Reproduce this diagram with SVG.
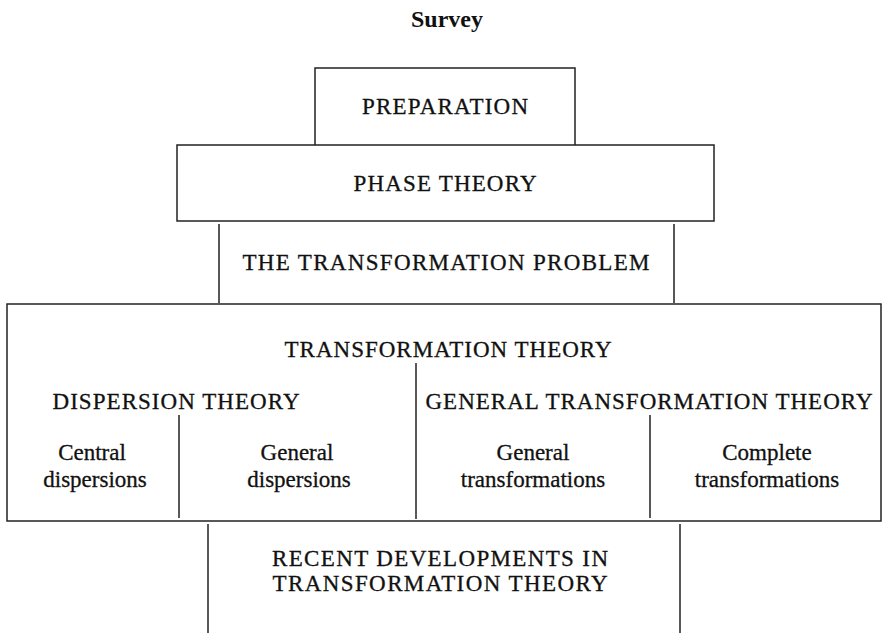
<svg xmlns="http://www.w3.org/2000/svg" width="884" height="633" viewBox="0 0 884 633">
<style>
.ln{fill:none;stroke:#222;stroke-width:1.5}
.t{font-family:"Liberation Serif","Times New Roman",serif;fill:#111;stroke:#111;stroke-width:0.3;text-anchor:middle}
.c{font-size:23px}
.l{font-size:23px}
.h{font-size:24px;font-weight:bold;stroke-width:0}
</style>
<rect width="884" height="633" fill="#fff"/>
<text class="t h" x="447" y="27">Survey</text>
<g id="preparation">
<path class="ln" d="M315,145 V68 H575 V145"/>
<text class="t c" x="445" y="114" textLength="166" lengthAdjust="spacing">PREPARATION</text>
</g>
<g id="phase-theory">
<rect class="ln" x="177" y="145" width="537" height="76"/>
<text class="t c" x="445" y="191" textLength="183" lengthAdjust="spacing">PHASE THEORY</text>
</g>
<g id="transformation-problem">
<text class="t c" x="446" y="270" textLength="407" lengthAdjust="spacing">THE TRANSFORMATION PROBLEM</text>
</g>
<g id="transformation-theory">
<rect class="ln" x="7" y="304" width="874" height="217"/>
<text class="t c" x="448" y="357" textLength="327" lengthAdjust="spacing">TRANSFORMATION THEORY</text>
</g>
<g id="dispersion-theory">
<text class="t c" x="176" y="409" textLength="247" lengthAdjust="spacing">DISPERSION THEORY</text>
</g>
<g id="general-transformation-theory">
<text class="t c" x="649" y="409" textLength="447" lengthAdjust="spacing">GENERAL TRANSFORMATION THEORY</text>
</g>
<g id="central-dispersions">
<text class="t l" x="92" y="460">Central</text>
<text class="t l" x="95" y="487">dispersions</text>
</g>
<g id="general-dispersions">
<text class="t l" x="297" y="460">General</text>
<text class="t l" x="299" y="487">dispersions</text>
</g>
<g id="general-transformations">
<text class="t l" x="533" y="460">General</text>
<text class="t l" x="533" y="487">transformations</text>
</g>
<g id="complete-transformations">
<text class="t l" x="767" y="460">Complete</text>
<text class="t l" x="767" y="487">transformations</text>
</g>
<g id="recent-developments">
<text class="t c" x="440" y="566" textLength="336" lengthAdjust="spacing">RECENT DEVELOPMENTS IN</text>
<text class="t c" x="440" y="591" textLength="335" lengthAdjust="spacing">TRANSFORMATION THEORY</text>
</g>
<g id="connectors">
<path class="ln" d="M219,224 V303 M674,224 V303"/>
<path class="ln" d="M416,363 V519"/>
<path class="ln" d="M179,415 V518 M650,415 V518"/>
<path class="ln" d="M208,524 V633 M680,524 V633"/>
</g>
</svg>
